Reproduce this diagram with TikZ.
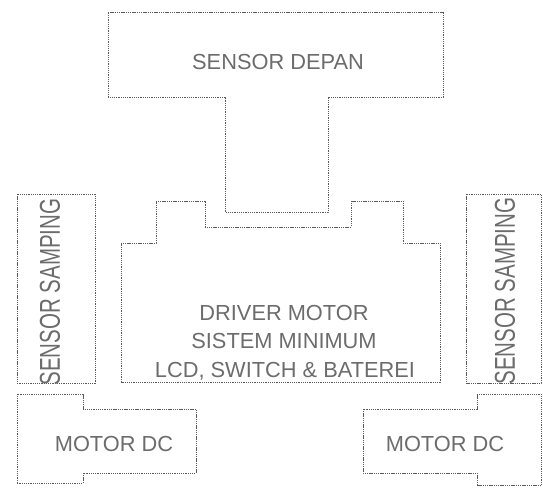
\documentclass[tikz,border=0pt]{standalone}
\usepackage{fontspec}
\setmainfont{Liberation Sans}
\definecolor{linegray}{HTML}{5A5A5A}
\definecolor{textgray}{HTML}{6C6C6C}
\tikzset{
  blockline/.style={draw=linegray, line width=1pt, dash pattern=on 1.3pt off 0.9pt, line join=miter},
  lbl/.style={text=textgray, font=\fontsize{21.8}{28.5}\selectfont, inner sep=0pt, align=center},
  vlbl/.style={text=textgray, font=\fontsize{20.5}{24}\selectfont, inner sep=0pt, xscale=1.4, rotate=90}
}
\begin{document}
\begin{tikzpicture}[x=1pt,y=-1pt]
\useasboundingbox (0,0) rectangle (543,487);
% Sensor depan (T shape)
\draw[blockline] (108,13) -- (443,13) -- (443,97) -- (328,97) -- (328,212) -- (225,212) -- (225,97) -- (108,97) -- cycle;
\node[lbl] (depan) at (278,62) {SENSOR DEPAN};
% Driver motor / sistem minimum
\draw[blockline] (121,382) -- (121,243) -- (156,243) -- (156,201) -- (205,201) -- (205,227) -- (351,227) -- (351,201) -- (403,201) -- (403,243) -- (440,243) -- (440,382) -- cycle;
\node[lbl, anchor=base] (driver) at (284,320) {DRIVER MOTOR};
\node[lbl, anchor=base] (sismin) at (284,348) {SISTEM MINIMUM};
\node[lbl, anchor=base] (lcd) at (285,377) {LCD, SWITCH \& BATEREI};
% Sensor samping
\draw[blockline] (17,194) rectangle (95,383);
\draw[blockline] (466,194) rectangle (541,383);
\node[vlbl] (sampingL) at (50,292) {SENSOR SAMPING};
\node[vlbl] (sampingR) at (505,291) {SENSOR SAMPING};
% Motor DC left
\draw[blockline] (17,483) -- (17,394) -- (83,394) -- (83,409) -- (196,409) -- (196,473) -- (83,473) -- (83,483) -- cycle;
\node[lbl] (motorL) at (114,444) {MOTOR DC};
% Motor DC right
\draw[blockline] (541,485) -- (541,394) -- (477,394) -- (477,409) -- (363,409) -- (363,473) -- (477,473) -- (477,485) -- cycle;
\node[lbl] (motorR) at (445,444) {MOTOR DC};
\end{tikzpicture}
\end{document}
